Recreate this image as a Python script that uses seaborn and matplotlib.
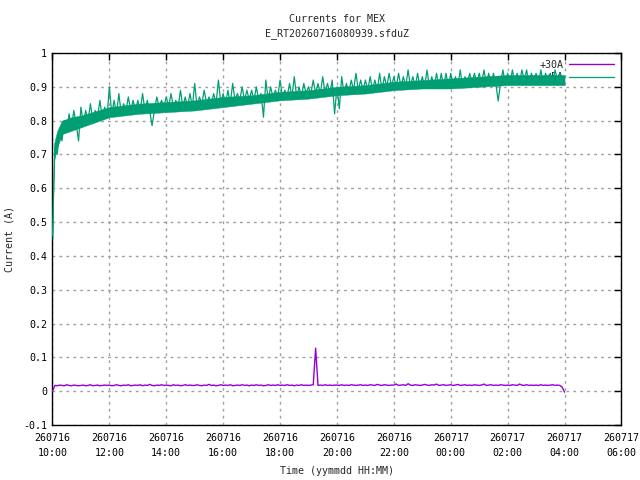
import pandas as pd
import numpy as np
import matplotlib
matplotlib.use("Agg")
import matplotlib.pyplot as plt
import matplotlib.dates as mdates
from matplotlib.ticker import FuncFormatter
import seaborn as sns

# Samples every 5 minutes, 260716 10:00 -> 260717 04:00
times = pd.date_range("2026-07-16 10:00", "2026-07-17 04:00", freq="5min")

# +5A channel, one row per hour (12 samples each) plus the last sample
current_5a = [
    0.46, 0.72, 0.70, 0.77, 0.74, 0.80, 0.77, 0.82, 0.78, 0.83, 0.79, 0.74,  # 10h
    0.84, 0.79, 0.83, 0.80, 0.85, 0.80, 0.83, 0.81, 0.86, 0.81, 0.84, 0.81,  # 11h
    0.90, 0.82, 0.86, 0.82, 0.88, 0.82, 0.85, 0.83, 0.87, 0.83, 0.86, 0.83,  # 12h
    0.86, 0.83, 0.88, 0.83, 0.86, 0.83, 0.785, 0.83, 0.87, 0.84, 0.86, 0.84,  # 13h
    0.87, 0.84, 0.88, 0.84, 0.86, 0.84, 0.89, 0.84, 0.87, 0.84, 0.88, 0.84,  # 14h
    0.91, 0.84, 0.87, 0.85, 0.89, 0.85, 0.87, 0.85, 0.88, 0.85, 0.92, 0.85,  # 15h
    0.88, 0.85, 0.89, 0.85, 0.91, 0.86, 0.88, 0.86, 0.90, 0.86, 0.89, 0.86,  # 16h
    0.89, 0.86, 0.90, 0.86, 0.88, 0.81, 0.92, 0.86, 0.90, 0.87, 0.89, 0.87,  # 17h
    0.92, 0.87, 0.89, 0.87, 0.91, 0.87, 0.93, 0.87, 0.90, 0.87, 0.91, 0.88,  # 18h
    0.90, 0.88, 0.92, 0.88, 0.91, 0.88, 0.93, 0.88, 0.91, 0.88, 0.92, 0.82,  # 19h
    0.90, 0.835, 0.93, 0.88, 0.91, 0.88, 0.92, 0.89, 0.94, 0.89, 0.92, 0.89,  # 20h
    0.92, 0.89, 0.93, 0.89, 0.92, 0.89, 0.94, 0.89, 0.93, 0.90, 0.94, 0.90,  # 21h
    0.93, 0.90, 0.94, 0.90, 0.93, 0.90, 0.95, 0.90, 0.93, 0.90, 0.94, 0.90,  # 22h
    0.93, 0.90, 0.95, 0.90, 0.93, 0.90, 0.94, 0.90, 0.94, 0.90, 0.94, 0.90,  # 23h
    0.94, 0.90, 0.93, 0.90, 0.95, 0.90, 0.93, 0.91, 0.94, 0.91, 0.94, 0.91,  # 00h
    0.94, 0.91, 0.95, 0.91, 0.94, 0.91, 0.94, 0.91, 0.858, 0.91, 0.95, 0.91,  # 01h
    0.94, 0.91, 0.95, 0.91, 0.94, 0.91, 0.95, 0.92, 0.95, 0.91, 0.94, 0.92,  # 02h
    0.94, 0.91, 0.95, 0.91, 0.94, 0.92, 0.94, 0.91, 0.95, 0.92, 0.94, 0.91,  # 03h
    0.92,
]

# dense noise band of the +5A channel (lower / upper edge)
band_times = ["2026-07-16 10:00", "2026-07-16 10:03", "2026-07-16 10:10",
              "2026-07-16 10:20", "2026-07-16 10:40", "2026-07-16 11:00",
              "2026-07-16 12:00", "2026-07-16 13:00", "2026-07-16 14:00",
              "2026-07-16 15:00", "2026-07-16 16:00", "2026-07-16 17:00",
              "2026-07-16 18:00", "2026-07-16 19:00", "2026-07-16 20:00",
              "2026-07-16 21:00", "2026-07-16 22:00", "2026-07-16 23:00",
              "2026-07-17 00:00", "2026-07-17 01:00", "2026-07-17 02:00",
              "2026-07-17 03:00", "2026-07-17 04:00"]
band_lo = [0.45, 0.68, 0.72, 0.76, 0.77, 0.78, 0.81, 0.82, 0.825, 0.83, 0.84, 0.85,
           0.86, 0.865, 0.875, 0.88, 0.89, 0.895, 0.895, 0.90, 0.905, 0.905, 0.905]
band_hi = [0.47, 0.73, 0.77, 0.80, 0.81, 0.815, 0.84, 0.85, 0.855, 0.86, 0.87, 0.875,
           0.885, 0.89, 0.90, 0.905, 0.915, 0.92, 0.925, 0.93, 0.935, 0.935, 0.935]

# +30A channel
current_30a = [
    0.000, 0.017, 0.016, 0.018, 0.017, 0.016, 0.019, 0.017, 0.016, 0.018, 0.017, 0.016,  # 10h
    0.017, 0.018, 0.016, 0.017, 0.019, 0.016, 0.017, 0.018, 0.016, 0.017, 0.018, 0.017,  # 11h
    0.018, 0.016, 0.017, 0.019, 0.017, 0.016, 0.018, 0.017, 0.019, 0.016, 0.017, 0.018,  # 12h
    0.017, 0.019, 0.016, 0.018, 0.017, 0.020, 0.017, 0.016, 0.018, 0.017, 0.019, 0.017,  # 13h
    0.018, 0.017, 0.016, 0.019, 0.017, 0.018, 0.016, 0.017, 0.019, 0.017, 0.018, 0.017,  # 14h
    0.017, 0.019, 0.017, 0.016, 0.018, 0.017, 0.020, 0.017, 0.018, 0.016, 0.017, 0.019,  # 15h
    0.017, 0.018, 0.017, 0.019, 0.016, 0.017, 0.018, 0.017, 0.019, 0.017, 0.018, 0.016,  # 16h
    0.018, 0.017, 0.019, 0.017, 0.018, 0.016, 0.017, 0.019, 0.017, 0.018, 0.017, 0.019,  # 17h
    0.017, 0.018, 0.017, 0.019, 0.017, 0.018, 0.016, 0.018, 0.017, 0.019, 0.017, 0.018,  # 18h
    0.017, 0.018, 0.019, 0.127, 0.017, 0.018, 0.017, 0.019, 0.017, 0.018, 0.017, 0.018,  # 19h
    0.018, 0.017, 0.019, 0.017, 0.018, 0.017, 0.019, 0.018, 0.017, 0.018, 0.019, 0.017,  # 20h
    0.018, 0.017, 0.019, 0.018, 0.017, 0.020, 0.018, 0.017, 0.019, 0.018, 0.017, 0.018,  # 21h
    0.018, 0.021, 0.017, 0.018, 0.019, 0.017, 0.022, 0.018, 0.017, 0.019, 0.018, 0.017,  # 22h
    0.018, 0.020, 0.018, 0.017, 0.019, 0.018, 0.021, 0.017, 0.018, 0.019, 0.017, 0.018,  # 23h
    0.019, 0.017, 0.018, 0.020, 0.017, 0.018, 0.019, 0.017, 0.018, 0.017, 0.019, 0.018,  # 00h
    0.017, 0.018, 0.021, 0.017, 0.018, 0.019, 0.017, 0.018, 0.017, 0.019, 0.018, 0.017,  # 01h
    0.018, 0.017, 0.019, 0.018, 0.017, 0.021, 0.018, 0.017, 0.019, 0.017, 0.018, 0.017,  # 02h
    0.018, 0.017, 0.019, 0.017, 0.018, 0.017, 0.018, 0.019, 0.017, 0.018, 0.017, 0.012,  # 03h
    -0.003,
]

y_ticks = [-0.1, 0, 0.1, 0.2, 0.3, 0.4, 0.5, 0.6, 0.7, 0.8, 0.9, 1]

PURPLE = "#9400D3"
GREEN = "#009E73"

df = pd.DataFrame({"time": times, "+30A": current_30a, "+5A": current_5a})
band = pd.DataFrame({"time": pd.to_datetime(band_times), "lo": band_lo, "hi": band_hi})

sns.set_theme(style="white")
plt.rcParams["font.family"] = ["DejaVu Sans Mono"]
plt.rcParams["font.size"] = 7.2

fig = plt.figure(figsize=(6.4, 4.8), dpi=100)
ax = fig.add_axes([0.082, 0.1146, 0.889, 0.775])

sns.lineplot(data=df, x="time", y="+30A", ax=ax, color=PURPLE, linewidth=1,
             estimator=None, label="+30A", zorder=3)
sns.lineplot(data=df, x="time", y="+5A", ax=ax, color=GREEN, linewidth=0.9,
             estimator=None, label="+5A", zorder=4)
ax.fill_between(band["time"], band["lo"], band["hi"], color=GREEN, linewidth=0.3,
                edgecolor=GREEN, zorder=4)

ax.set_xlim(pd.Timestamp("2026-07-16 10:00"), pd.Timestamp("2026-07-17 06:00"))
ax.set_ylim(-0.1, 1.0)
ax.set_yticks(y_ticks)
ax.yaxis.set_major_formatter(FuncFormatter(lambda v, p: f"{v:g}"))
ax.xaxis.set_major_locator(mdates.HourLocator(byhour=range(0, 24, 2)))
ax.xaxis.set_major_formatter(mdates.DateFormatter("%y%m%d\n%H:%M"))

ax.grid(True, color="#a0a0a0", linestyle=(0, (2, 3)), linewidth=1)
ax.tick_params(direction="in", length=5, width=1, top=True, right=True,
               labelsize=7.2, colors="black", pad=4)
for lbl in ax.get_xticklabels():
    lbl.set_linespacing(1.55)
ax.tick_params(axis="x", pad=6)
for s in ax.spines.values():
    s.set_color("black")
    s.set_linewidth(1)

ax.set_title("Currents for MEX\nE_RT20260716080939.sfduZ", fontsize=7.2, pad=12,
             linespacing=1.5)
ax.set_xlabel("Time (yymmdd HH:MM)", fontsize=7.2, labelpad=6)
ax.set_ylabel("Current (A)", fontsize=7.2, labelpad=6)

leg = ax.legend(loc="upper right", frameon=False, markerfirst=False,
                handlelength=4.5, fontsize=7.2, borderaxespad=0.3,
                labelspacing=0.25, handletextpad=0.6)
leg.set_zorder(1)

fig.savefig("out.png", dpi=100)
